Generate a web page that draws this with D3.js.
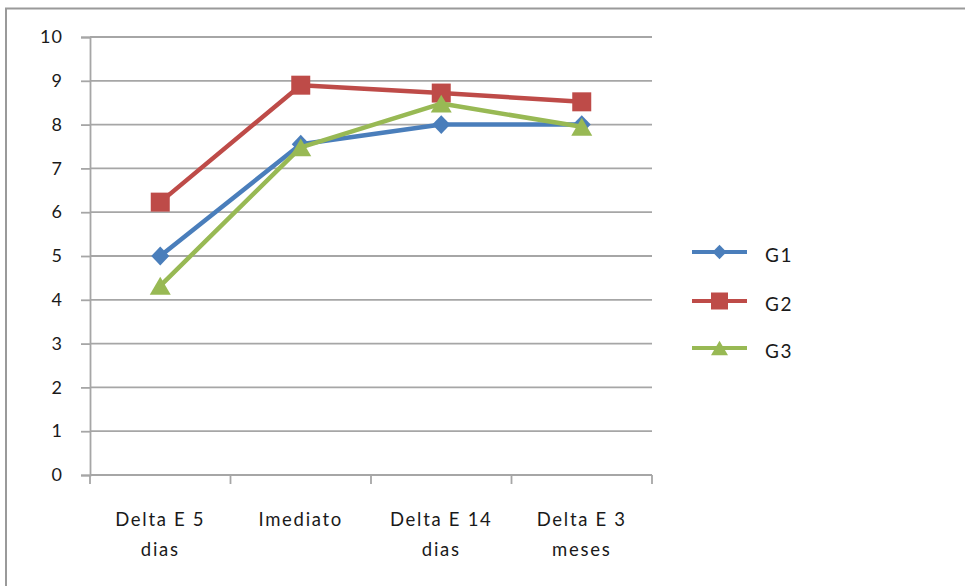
<!DOCTYPE html>
<html>
<head>
<meta charset="utf-8">
<script src="https://cdn.jsdelivr.net/npm/d3@7"></script>
<style>
  html, body { margin: 0; padding: 0; background: #fff; }
  svg { display: block; }
  text { font-family: Lato, "Open Sans", sans-serif; fill: #1a1a1a; }
</style>
</head>
<body>
<svg id="chart" width="965" height="586"></svg>
<script>
// Categories (two-line labels) and series values
const categories = ["Delta E 5 dias", "Imediato", "Delta E 14 dias", "Delta E 3 meses"];
const categoryLines = [["Delta E 5", "dias"], ["Imediato"], ["Delta E 14", "dias"], ["Delta E 3", "meses"]];
const seriesNames = ["G1", "G2", "G3"];
const g1 = [5.0, 7.55, 8.0, 8.0];
const g2 = [6.23, 8.9, 8.72, 8.52];
const g3 = [4.32, 7.48, 8.48, 7.95];
const yTicks = [0, 1, 2, 3, 4, 5, 6, 7, 8, 9, 10];

const seriesValues = [g1, g2, g3];
const colors = ["#4A7EBB", "#BE4B48", "#98B954"];

// marker shapes: size = half-width in px
const diamond = { draw(ctx, r) { ctx.moveTo(0, -r * 1.05); ctx.lineTo(r, 0); ctx.lineTo(0, r * 1.05); ctx.lineTo(-r, 0); ctx.closePath(); } };
const square = { draw(ctx, r) { ctx.rect(-r, -r, 2 * r, 2 * r); } };
const triangle = { draw(ctx, r) { const h = r * 0.85; ctx.moveTo(0, -h); ctx.lineTo(r, h); ctx.lineTo(-r, h); ctx.closePath(); } };
const symbols = [diamond, square, triangle];
const markerR = [9, 9.5, 10.5];
const legendR = [7, 8.5, 8.5];

const svg = d3.select("#chart");

// outer chart frame (top and left edges)
svg.append("path")
  .attr("d", "M6,586 V8.5 H965")
  .attr("fill", "none")
  .attr("stroke", "#9a9a9a")
  .attr("stroke-width", 2);

const plotLeft = 90, plotRight = 652, plotTop = 37, plotBottom = 475;

const x = d3.scaleBand().domain(categories).range([plotLeft, plotRight]);
const y = d3.scaleLinear().domain([0, 10]).range([plotBottom, plotTop]);

// horizontal gridlines
svg.append("g")
  .selectAll("line")
  .data(yTicks)
  .join("line")
  .attr("x1", plotLeft).attr("x2", plotRight)
  .attr("y1", d => y(d)).attr("y2", d => y(d))
  .attr("stroke", "#a6a6a6")
  .attr("stroke-width", 1.8);

// y axis
const yAxis = svg.append("g")
  .attr("transform", `translate(${plotLeft},0)`)
  .call(d3.axisLeft(y).tickValues(yTicks).tickSize(9).tickPadding(18).tickFormat(d3.format("d")));
yAxis.select(".domain").attr("stroke", "#a6a6a6").attr("stroke-width", 1.8);
yAxis.selectAll(".tick line").attr("stroke", "#a6a6a6").attr("stroke-width", 1.8);
yAxis.selectAll(".tick text")
  .attr("font-size", 18)
  .attr("letter-spacing", 1)
  .attr("font-family", "Lato, sans-serif")
  .attr("fill", "#1a1a1a");

// x axis: ticks at band boundaries
const xAxisG = svg.append("g");
xAxisG.append("line")
  .attr("x1", plotLeft).attr("x2", plotRight)
  .attr("y1", plotBottom).attr("y2", plotBottom)
  .attr("stroke", "#a6a6a6").attr("stroke-width", 1.8);
const boundaries = categories.map(c => x(c)).concat([x(categories[categories.length - 1]) + x.bandwidth()]);
xAxisG.selectAll("line.tk")
  .data(boundaries)
  .join("line")
  .attr("class", "tk")
  .attr("x1", d => d).attr("x2", d => d)
  .attr("y1", plotBottom).attr("y2", plotBottom + 9)
  .attr("stroke", "#a6a6a6").attr("stroke-width", 1.8);

// category labels
const labels = xAxisG.selectAll("text.cat")
  .data(categories)
  .join("text")
  .attr("class", "cat")
  .attr("text-anchor", "middle")
  .attr("font-size", 18.5)
  .attr("letter-spacing", 1.7)
  .attr("x", d => x(d) + x.bandwidth() / 2)
  .attr("y", 526);
labels.each(function(d, i) {
  const t = d3.select(this);
  categoryLines[i].forEach((ln, j) => {
    t.append("tspan")
      .attr("x", x(d) + x.bandwidth() / 2)
      .attr("dy", j === 0 ? 0 : 30)
      .text(ln);
  });
});

// series lines and markers
const line = d3.line()
  .x((d, i) => x(categories[i]) + x.bandwidth() / 2)
  .y(d => y(d));

seriesValues.forEach((vals, s) => {
  const g = svg.append("g");
  g.append("path")
    .datum(vals)
    .attr("d", line)
    .attr("fill", "none")
    .attr("stroke", colors[s])
    .attr("stroke-width", 4.5)
    .attr("stroke-linejoin", "round");
  g.selectAll("path.mk")
    .data(vals)
    .join("path")
    .attr("class", "mk")
    .attr("d", d3.symbol().type(symbols[s]).size(markerR[s]))
    .attr("transform", (d, i) => `translate(${x(categories[i]) + x.bandwidth() / 2},${y(d)})`)
    .attr("fill", colors[s]);
});

// legend
const legendY = [252, 301, 348];
const legend = svg.append("g");
seriesNames.forEach((name, s) => {
  const ly = legendY[s];
  legend.append("line")
    .attr("x1", 692).attr("x2", 747)
    .attr("y1", ly).attr("y2", ly)
    .attr("stroke", colors[s]).attr("stroke-width", 4);
  legend.append("path")
    .attr("d", d3.symbol().type(symbols[s]).size(legendR[s])())
    .attr("transform", `translate(719.5,${ly})`)
    .attr("fill", colors[s]);
  legend.append("text")
    .attr("x", 765)
    .attr("y", ly + 10)
    .attr("font-size", 19)
    .attr("letter-spacing", 1.5)
    .text(name);
});
</script>
</body>
</html>
